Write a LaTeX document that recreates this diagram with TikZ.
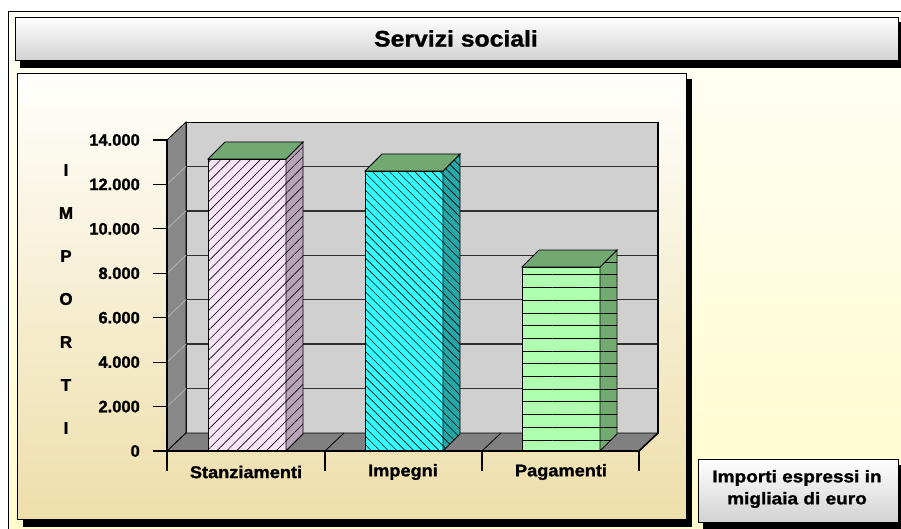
\documentclass[tikz,border=0pt]{standalone}
\usepackage{fontspec}
\setmainfont{Liberation Sans}[BoldFeatures={FakeBold=1.2}]
\usetikzlibrary{patterns.meta}
\definecolor{bgtop}{HTML}{FFFFF6}
\definecolor{bgbot}{HTML}{FFFBCC}
\definecolor{titlebot}{HTML}{D2D2D2}
\definecolor{paneltop}{HTML}{FFFFFC}
\definecolor{panelbot}{HTML}{EEDEAA}
\definecolor{wallgray}{HTML}{D0D0D0}
\definecolor{sidegray}{HTML}{888888}
\definecolor{floorgray}{HTML}{808080}
\definecolor{sidegrid}{HTML}{B4B4B4}
\definecolor{gridc}{HTML}{303030}
\definecolor{topgreen}{HTML}{72A872}
\definecolor{stfront}{HTML}{F8E6F8}
\definecolor{stside}{HTML}{B8A6B8}
\definecolor{imfront}{HTML}{33FFFF}
\definecolor{imside}{HTML}{26A8A8}
\definecolor{pafront}{HTML}{B0FFB0}
\definecolor{paside}{HTML}{72AA72}
\tikzset{
  lbl/.style={font=\fontsize{16.5}{18}\selectfont\bfseries, inner sep=0pt},
  catlbl/.style={font=\fontsize{17}{19}\selectfont\bfseries, inner sep=0pt},
  axletter/.style={font=\fontsize{17}{19}\selectfont\bfseries, inner sep=0pt},
  face/.style={draw=black, line width=0.8pt},
  hatchNE/.style={pattern={Lines[angle=45,distance=7pt,line width=0.6pt]}, pattern color=black},
  hatchNW/.style={pattern={Lines[angle=-45,distance=6pt,line width=0.6pt]}, pattern color=black},
  hatchH/.style={pattern={Lines[angle=0,distance=12.7pt,line width=1pt]}, pattern color=black},
}
\begin{document}
\begin{tikzpicture}[x=1pt,y=-1pt]
\useasboundingbox (0,0) rectangle (901,529);
\fill[white] (0,0) rectangle (901,529);
% outer background and frame
\shade[top color=bgtop, bottom color=bgbot] (8,12) rectangle (901,529);
\draw[line width=1pt] (8,529) -- (8,12) -- (901,12);
% title bar
\fill[black] (20,22) rectangle (901,68);
\shadedraw[top color=white, bottom color=titlebot, draw=black, line width=0.8pt] (15,17) rectangle (898,60);
\node[font=\fontsize{22.5}{26}\selectfont\bfseries, inner sep=0pt] (title) at (456,38.5) {\scalebox{1.1}[1]{Servizi sociali}};
% chart panel
\fill[black] (23,79) rectangle (692,527);
\shadedraw[top color=paneltop, bottom color=panelbot, draw=black, line width=0.8pt] (17,73) rectangle (686,519);
% back wall
\filldraw[fill=wallgray, draw=black, line width=0.8pt] (186,122) rectangle (658,433);
\foreach \k in {1,...,6}
  \draw[gridc, line width=1.4pt] (186,{433-\k*44.43}) -- (658,{433-\k*44.43});
% left wall
\filldraw[fill=sidegray, draw=black, line width=0.8pt] (167,140) -- (186,122) -- (186,433) -- (167,451) -- cycle;
\foreach \k in {1,...,6}
  \draw[sidegrid, line width=0.8pt] (167,{451-\k*44.43}) -- (186,{433-\k*44.43});
% floor
\filldraw[fill=floorgray, draw=black, line width=0.8pt] (167,451) -- (186,433) -- (658,433) -- (639,451) -- cycle;
\draw[black, line width=0.8pt] (325,451) -- (344,433) (482,451) -- (501,433);
\draw[line width=1.6pt] (658,122) -- (658,433) -- (639,451);
% bar: Stanziamenti
\fill[stfront] (208,159) rectangle (286,451);
\path[hatchNE] (208,159) rectangle (286,451);
\draw[face] (208,159) rectangle (286,451);
\fill[stside] (286,451) -- (303,434) -- (303,142) -- (286,159) -- cycle;
\path[hatchNE] (286,451) -- (303,434) -- (303,142) -- (286,159) -- cycle;
\draw[face] (286,451) -- (303,434) -- (303,142) -- (286,159) -- cycle;
\filldraw[face, fill=topgreen] (208,159) -- (225,142) -- (303,142) -- (286,159) -- cycle;
% bar: Impegni
\fill[imfront] (365,171) rectangle (443,451);
\path[hatchNW] (365,171) rectangle (443,451);
\draw[face] (365,171) rectangle (443,451);
\fill[imside] (443,451) -- (460,434) -- (460,154) -- (443,171) -- cycle;
\path[hatchNW] (443,451) -- (460,434) -- (460,154) -- (443,171) -- cycle;
\draw[face] (443,451) -- (460,434) -- (460,154) -- (443,171) -- cycle;
\filldraw[face, fill=topgreen] (365,171) -- (382,154) -- (460,154) -- (443,171) -- cycle;
% bar: Pagamenti
\fill[pafront] (522,267) rectangle (600,451);
\path[hatchH] (522,267) rectangle (600,451);
\draw[face] (522,267) rectangle (600,451);
\fill[paside] (600,451) -- (617,434) -- (617,250) -- (600,267) -- cycle;
\path[hatchH] (600,451) -- (617,434) -- (617,250) -- (600,267) -- cycle;
\draw[face] (600,451) -- (617,434) -- (617,250) -- (600,267) -- cycle;
\filldraw[face, fill=topgreen] (522,267) -- (539,250) -- (617,250) -- (600,267) -- cycle;
% axes
\draw[line width=1.6pt] (167,140) -- (167,451);
\draw[line width=1.6pt] (153,451) -- (639,451);
\foreach \k in {1,...,7}
  \draw[line width=1.2pt] (153,{451-\k*44.43}) -- (167,{451-\k*44.43});
\foreach \x in {167,325,482,639}
  \draw[line width=1.2pt] (\x,451) -- (\x,471);
% tick labels
\foreach \k/\t in {0/0,1/2.000,2/4.000,3/6.000,4/8.000,5/10.000,6/12.000,7/14.000}
  \node[lbl, anchor=east] (y\k) at (140,{451-\k*44.43}) {\t};
% axis title
\foreach \i/\c in {0/I,1/M,2/P,3/O,4/R,5/T,6/I}
  \node[axletter] (ax\i) at (66,{170+\i*43}) {\c};
% category labels
\node[catlbl] (c1) at (246,472) {\scalebox{1.07}[1]{Stanziamenti}};
\node[catlbl] (c2) at (403,472) {\scalebox{1.07}[1]{Impegni}};
\node[catlbl] (c3) at (561,472) {\scalebox{1.07}[1]{Pagamenti}};
% note box
\fill[black] (703,465) rectangle (901,529);
\shadedraw[top color=white, bottom color=titlebot, draw=black, line width=0.8pt] (698,459) rectangle (898,522);
\node[font=\fontsize{17}{22}\selectfont\bfseries, align=center, inner sep=0pt] (note) at (797,489) {\scalebox{1.12}[1]{Importi espressi in}\\\scalebox{1.12}[1]{migliaia di euro}};
\end{tikzpicture}
\end{document}
